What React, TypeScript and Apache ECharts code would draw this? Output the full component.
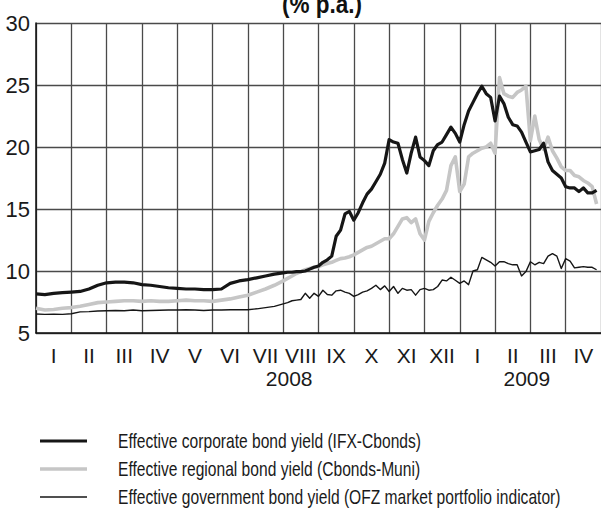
import React, { useEffect, useRef } from "react";
import * as echarts from "echarts";

const monthLabels = ["I", "II", "III", "IV", "V", "VI", "VII", "VIII", "IX", "X", "XI", "XII", "I", "II", "III", "IV"];
const yearLabels = ["2008", "2009"];
const yearMonthPos = [7.17, 13.9];
const titleText = "(% p.a.)";
const seriesNames = [
  "Effective corporate bond yield (IFX-Cbonds)",
  "Effective regional bond yield (Cbonds-Muni)",
  "Effective government bond yield (OFZ market portfolio indicator)",
];

// sample positions in months from 1 Jan 2008 (weekly to July, twice-weekly afterwards)
const sampleMonths: number[] = [
  ...Array.from({ length: 28 }, (_, i) => i * 0.25),
  ...Array.from({ length: 72 }, (_, i) => 7 + i * 0.125),
];

const corporate = [
  8.15, 8.1, 8.2, 8.25, 8.3, 8.35, 8.55, 8.85, 9.05, 9.1, 9.1, 9.05, 8.9, 8.85, 8.75, 8.65,
  8.6, 8.55, 8.55, 8.5, 8.5, 8.55, 9.0, 9.2, 9.3, 9.45, 9.6, 9.75,
  9.85, 9.9, 9.9, 9.95, 9.95, 10.0, 10.15, 10.3, 10.4, 10.7, 10.9, 11.2, 12.8, 13.3, 14.6, 14.8,
  14.1, 14.7, 15.5, 16.2, 16.6, 17.2, 17.8, 18.7, 20.6, 20.4, 20.3, 19.0, 17.9, 19.5, 20.8, 19.2,
  18.9, 18.5, 19.7, 20.2, 20.4, 21.0, 21.6, 21.1, 20.4, 21.8, 22.9, 23.6, 24.3, 24.9, 24.3, 24.0,
  22.1, 24.1, 23.5, 22.4, 21.8, 21.7, 21.2, 20.4, 19.6, 19.7, 19.8, 20.3, 18.8, 18.1, 17.8, 17.5,
  16.8, 16.7, 16.7, 16.4, 16.7, 16.3, 16.3, 16.5,
];

const regional = [
  7.0, 6.85, 6.9, 7.0, 7.05, 7.15, 7.3, 7.45, 7.5, 7.55, 7.6, 7.6, 7.55, 7.6, 7.55, 7.55,
  7.6, 7.65, 7.6, 7.6, 7.55, 7.65, 7.75, 7.9, 8.05, 8.3, 8.55, 8.85,
  9.2, 9.4, 9.6, 9.8, 9.95, 10.1, 10.2, 10.3, 10.35, 10.5, 10.6, 10.7, 10.85, 11.0, 11.05, 11.15,
  11.3, 11.5, 11.7, 11.9, 12.0, 12.2, 12.4, 12.6, 12.6, 13.0, 13.6, 14.2, 14.3, 13.9, 14.2, 13.0,
  12.5, 14.0, 14.7, 15.3, 15.8, 16.5, 18.5, 19.2, 16.4, 17.0, 19.2, 19.5, 19.7, 19.9, 20.0, 20.3,
  19.5, 25.6, 24.3, 24.1, 24.0, 24.4, 24.6, 24.9, 20.5, 22.5, 20.6, 19.8, 20.8, 19.7, 19.1, 18.4,
  18.1, 18.1, 17.7, 17.6, 17.3, 17.1, 16.8, 15.4,
];

const government = [
  6.53, 6.5, 6.52, 6.5, 6.55, 6.7, 6.72, 6.78, 6.8, 6.82, 6.8, 6.85, 6.8, 6.82, 6.83, 6.85,
  6.85, 6.87, 6.85, 6.82, 6.85, 6.86, 6.87, 6.87, 6.88, 6.95, 7.05, 7.15,
  7.35, 7.45, 7.6, 7.65, 7.7, 8.2, 7.8, 8.2, 7.95, 8.45, 8.1, 8.05, 8.4, 8.45, 8.3, 8.2,
  7.95, 8.1, 8.3, 8.4, 8.6, 8.85, 8.5, 8.8, 8.35, 8.75, 8.2, 8.6, 8.45, 8.5, 8.05, 8.5,
  8.6, 8.45, 8.5, 8.75, 9.27, 9.2, 9.5, 9.25, 9.0, 9.2, 8.9, 10.0, 10.1, 11.1, 10.9, 10.7,
  10.4, 10.75, 10.75, 10.6, 10.5, 10.5, 9.6, 9.95, 10.75, 10.5, 10.7, 10.6, 11.2, 11.4, 11.2, 10.2,
  11.0, 10.8, 10.25, 10.3, 10.35, 10.3, 10.3, 10.1,
];

const FONT = "'Liberation Sans', Arial, sans-serif";
const lineStyles = [
  { color: "#161616", width: 3.2 },
  { color: "#c6c6c6", width: 3.6 },
  { color: "#161616", width: 1.4 },
];

export default function App() {
  const ref = useRef<HTMLDivElement>(null);
  useEffect(() => {
    document.body.style.margin = "0";
    const chart = echarts.init(ref.current!, null, { renderer: "svg" });
    const values = [corporate, regional, government];
    const drawOrder = [1, 0, 2];
    const legendRows = [441, 469, 497];
    const option: any = {
      animation: false,
      backgroundColor: "#ffffff",
      textStyle: { fontFamily: FONT },
      grid: { left: 36, right: -1, top: 23, bottom: 177, containLabel: false },
      xAxis: [
        {
          type: "value",
          min: 0,
          max: 16,
          interval: 1,
          axisLine: { show: true, lineStyle: { color: "#111", width: 1.5 } },
          axisTick: { show: false },
          axisLabel: { show: false },
          splitLine: { show: true, lineStyle: { color: "#4a4a4a", width: 1.3 } },
        },
        {
          type: "category",
          data: monthLabels,
          boundaryGap: true,
          position: "bottom",
          axisLine: { show: false },
          axisTick: { show: false },
          splitLine: { show: false },
          axisLabel: { fontSize: 21, color: "#1a1a1a", margin: 12, fontFamily: FONT, interval: 0 },
        },
        {
          type: "value",
          min: 0,
          max: 16,
          position: "bottom",
          axisLine: { show: false },
          axisTick: { show: false },
          splitLine: { show: false },
          axisLabel: {
            customValues: yearMonthPos,
            fontSize: 21,
            color: "#1a1a1a",
            margin: 35,
            fontFamily: FONT,
            formatter: (v: number) => {
              let best = 0;
              yearMonthPos.forEach((p, i) => {
                if (Math.abs(p - v) < Math.abs(yearMonthPos[best] - v)) best = i;
              });
              return yearLabels[best];
            },
          },
        },
      ],
      yAxis: {
        type: "value",
        min: 5,
        max: 30,
        interval: 5,
        axisLine: { show: true, lineStyle: { color: "#111", width: 1.5 } },
        axisTick: { show: false },
        axisLabel: { fontSize: 22, color: "#1a1a1a", margin: 6, fontFamily: FONT },
        splitLine: { show: true, lineStyle: { color: "#4a4a4a", width: 1.3 } },
      },
      series: drawOrder.map((i) => ({
        name: seriesNames[i],
        type: "line",
        xAxisIndex: 0,
        showSymbol: false,
        symbol: "none",
        lineStyle: { color: lineStyles[i].color, width: lineStyles[i].width, join: "round" },
        data: sampleMonths.map((t, k) => [t, values[i][k]]),
        z: 3,
      })),
      graphic: [
        {
          type: "text",
          x: 322,
          y: 4,
          scaleX: 0.9,
          style: {
            text: titleText,
            font: `bold 25px ${FONT}`,
            fill: "#111",
            textAlign: "center",
            textVerticalAlign: "middle",
          },
        },
        ...seriesNames.flatMap((name, i) => [
          {
            type: "line",
            shape: { x1: 40, y1: legendRows[i], x2: 87, y2: legendRows[i] },
            style: { stroke: lineStyles[i].color, lineWidth: lineStyles[i].width },
          },
          {
            type: "text",
            x: 118,
            y: legendRows[i],
            scaleX: 0.78,
            style: {
              text: name,
              font: `20px ${FONT}`,
              fill: "#1a1a1a",
              textVerticalAlign: "middle",
            },
          },
        ]),
      ],
    };
    chart.setOption(option);
    return () => chart.dispose();
  }, []);
  return <div ref={ref} style={{ width: 601, height: 510 }} />;
}
